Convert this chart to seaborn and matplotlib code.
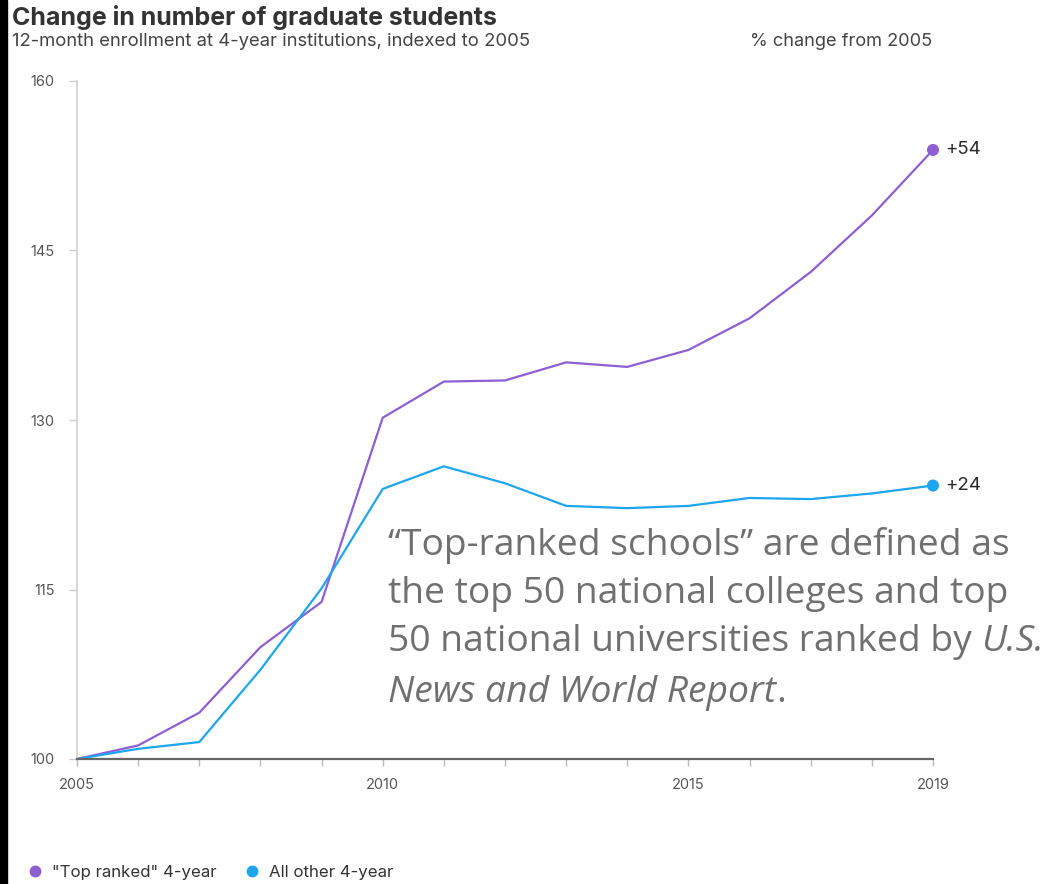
import matplotlib
matplotlib.use("Agg")
import matplotlib.pyplot as plt
import matplotlib.patches as patches
import numpy as np
import pandas as pd
import seaborn as sns

# data --------------------------------------------------------------------
years = list(range(2005, 2020))
top_ranked = [100, 101.2, 104.1, 109.9, 113.9, 130.2, 133.4, 133.5, 135.1,
              134.7, 136.2, 139.0, 143.1, 148.1, 153.9]
all_other = [100, 100.9, 101.5, 107.9, 115.1, 123.9, 125.9, 124.4, 122.4,
             122.2, 122.4, 123.1, 123.0, 123.5, 124.2]
series_names = ['"Top ranked" 4-year', 'All other 4-year']
end_labels = ['+54', '+24']
y_ticks = [100, 115, 130, 145, 160]
x_labels = [2005, 2010, 2015, 2019]

purple = '#8d5fd3'
blue = '#1da6ef'

sns.set_style('white')
plt.rcParams['font.family'] = ['Inter', 'DejaVu Sans']

df = pd.DataFrame({
    'year': years * 2,
    'value': top_ranked + all_other,
    'series': [series_names[0]] * len(years) + [series_names[1]] * len(years),
})

fig = plt.figure(figsize=(10.51, 8.84), dpi=100)
ax = fig.add_axes([77 / 1051, 1 - 759 / 884, (933 - 77) / 1051, (759 - 81) / 884])

sns.lineplot(data=df, x='year', y='value', hue='series',
             palette=[purple, blue], linewidth=1.6, legend=False, ax=ax)
last = df[df['year'] == years[-1]]
sns.scatterplot(data=last, x='year', y='value', hue='series',
                palette=[purple, blue], s=75, edgecolor='none',
                legend=False, ax=ax, zorder=5, clip_on=False)
for v, lab in zip(last['value'], end_labels):
    ax.annotate(lab, (years[-1], v), xytext=(9, 0), textcoords='offset points',
                va='center', ha='left', fontsize=13.5, color='#2a2a2a')

ax.set_xlim(years[0], years[-1])
ax.set_ylim(100, 160)
ax.set_yticks(y_ticks)
ax.set_xticks(x_labels)
ax.set_xticks(years, minor=True)
ax.set_xlabel('')
ax.set_ylabel('')
ax.tick_params(axis='y', which='major', length=6, width=1, color='#cccccc',
               labelsize=10.5, labelcolor='#555555', pad=10, left=True)
ax.tick_params(axis='x', which='both', length=5, width=1, color='#bbbbbb',
               labelsize=10.5, labelcolor='#555555', pad=9, bottom=True)
for s in ['top', 'right']:
    ax.spines[s].set_visible(False)
ax.spines['left'].set_color('#d0d0d0')
ax.spines['left'].set_linewidth(1.2)
ax.spines['bottom'].set_color('#666666')
ax.spines['bottom'].set_linewidth(1.6)

# titles
fig.text(12 / 1051, 1 - 17 / 884, 'Change in number of graduate students',
         fontsize=18, fontweight='bold', color='#333333', va='center')
fig.text(12 / 1051, 1 - 42 / 884,
         '12-month enrollment at 4-year institutions, indexed to 2005',
         fontsize=13.3, color='#444444', va='center')
fig.text(750 / 1051, 1 - 42 / 884, '% change from 2005',
         fontsize=13.1, color='#444444', va='center')

# note
note_kw = dict(fontsize=26.8, color='#707070', family=['Open Sans', 'DejaVu Sans'])
lines = ['\u201cTop-ranked schools\u201d are defined as',
         'the top 50 national colleges and top',
         '50 national universities ranked by ']
ys = [545, 594, 642]
for t, yy in zip(lines, ys):
    last_txt = fig.text(388 / 1051, 1 - yy / 884, t, va='center', **note_kw)
t1 = ax.annotate('U.S.', xy=(1, 0), xycoords=last_txt, va='bottom', ha='left',
                 style='italic', **note_kw)
t2 = fig.text(388 / 1051, 1 - 693 / 884, 'News and World Report', va='center',
              style='italic', **note_kw)
ax.annotate('.', xy=(1, 0), xycoords=t2, va='bottom', ha='left', **note_kw)

# legend
handles = [plt.Line2D([], [], marker='o', ls='', color=c, markersize=7.5)
           for c in [purple, blue]]
fig.legend(handles, series_names, loc='center left',
           bbox_to_anchor=(20 / 1051, 1 - 872 / 884), ncol=2, frameon=False,
           fontsize=12.1, handlelength=1.0, handletextpad=0.5, columnspacing=1.6,
           borderaxespad=0, labelcolor='#333333')

# black left border
fig.add_artist(patches.Rectangle((0, 0), 7 / 1051, 1, transform=fig.transFigure,
                                 color='black', zorder=10))

fig.savefig('out.png', dpi=100)
